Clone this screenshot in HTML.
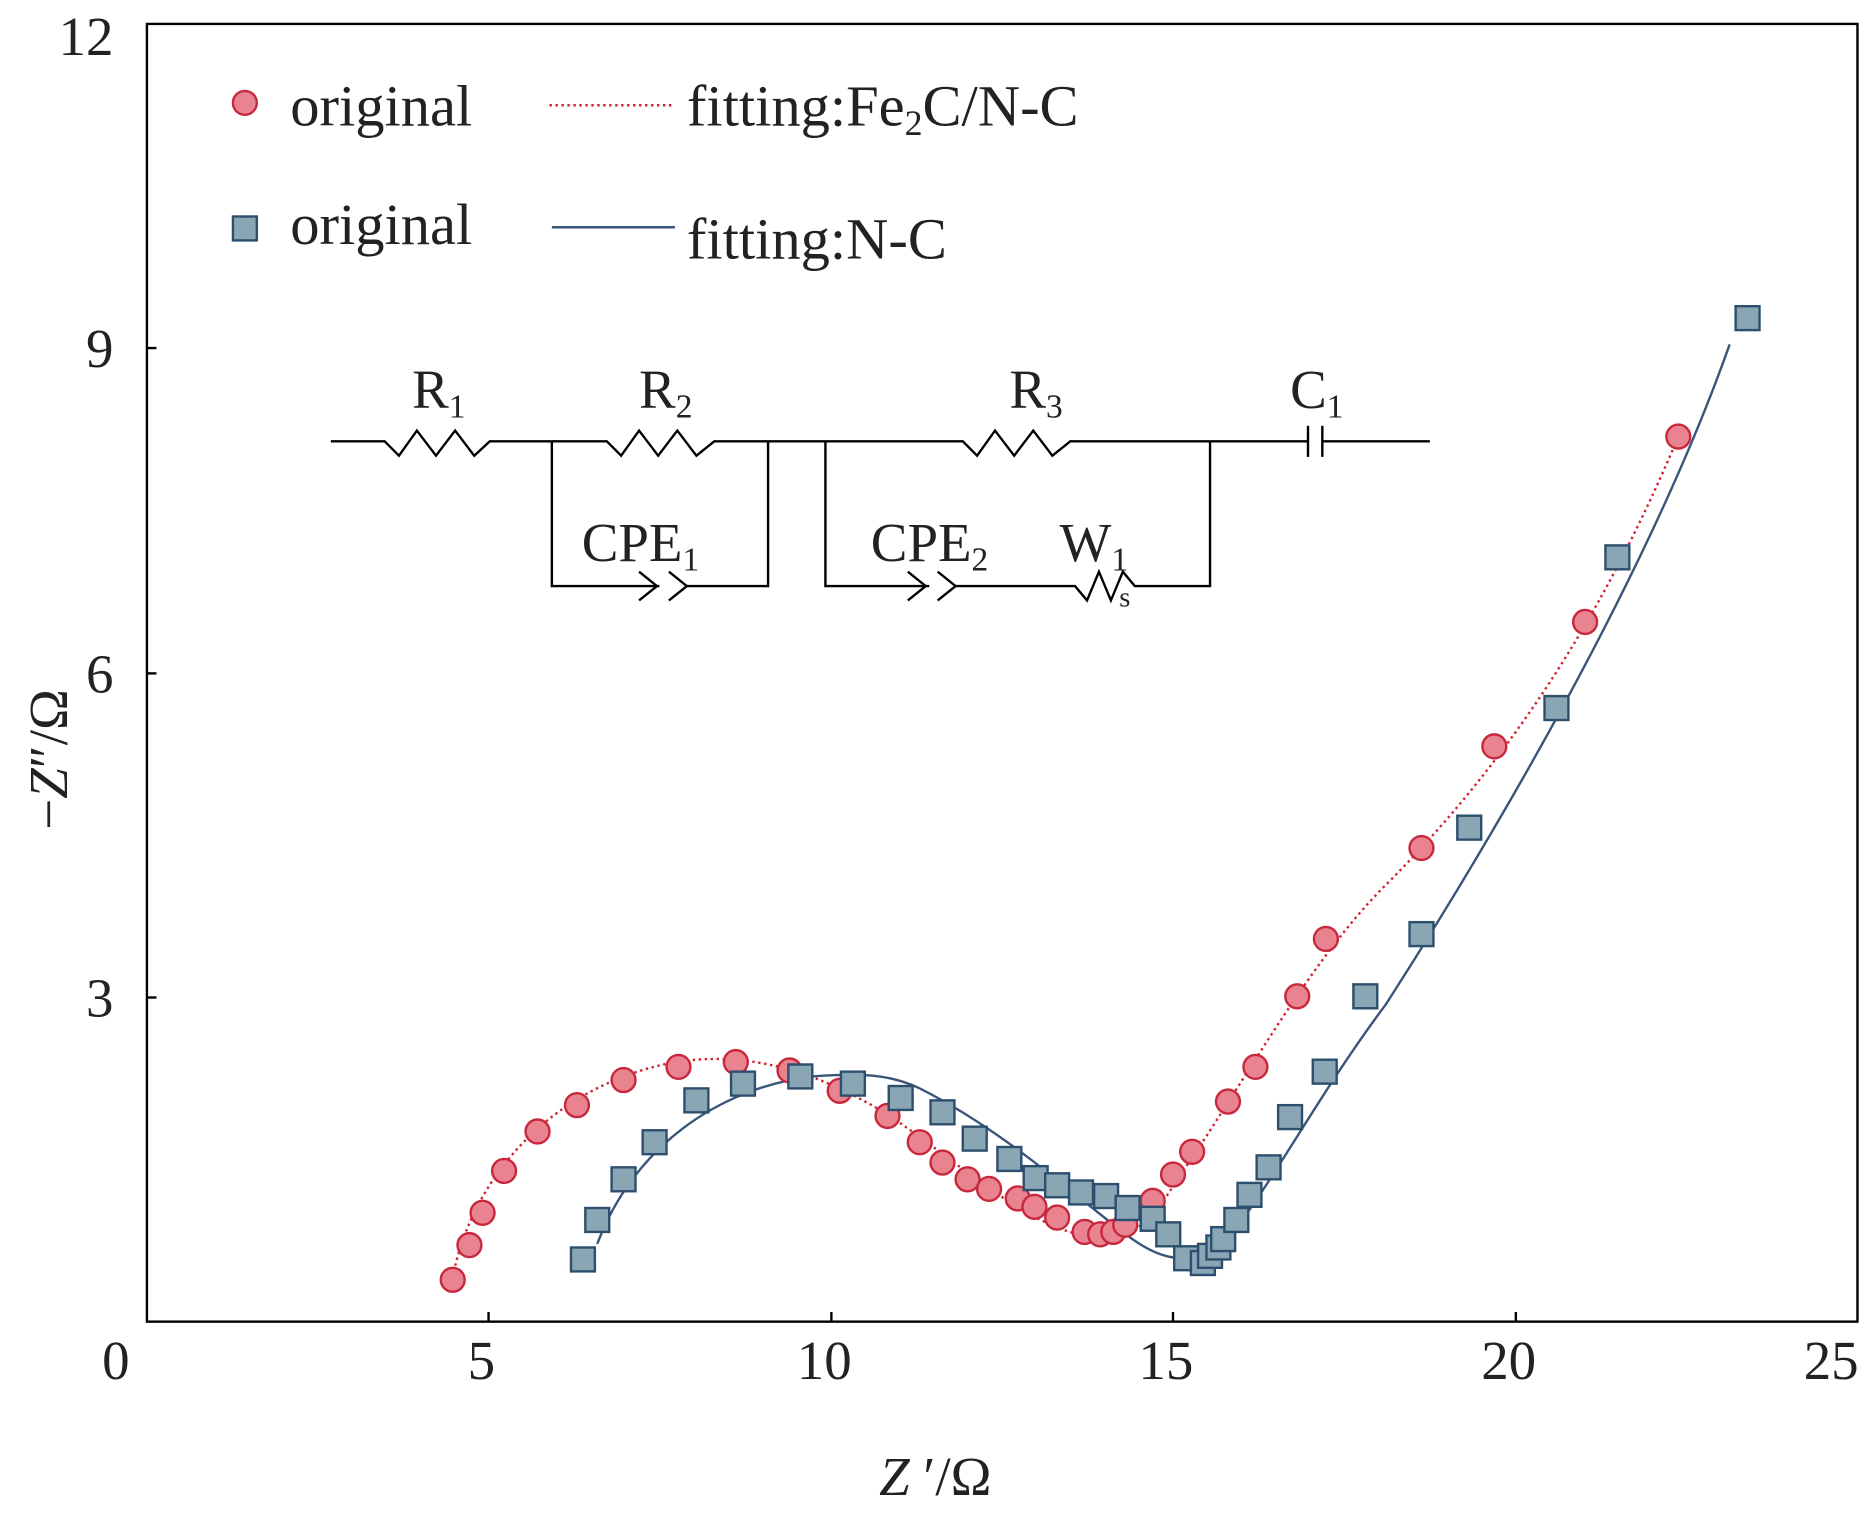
<!DOCTYPE html>
<html><head><style>html,body{margin:0;padding:0;background:#fff}svg{display:block}</style></head><body>
<svg width="1873" height="1513" viewBox="0 0 1568 1265" preserveAspectRatio="none" xmlns="http://www.w3.org/2000/svg" font-family="Liberation Serif, serif">
<rect x="123" y="20" width="1432" height="1085" fill="none" stroke="#000" stroke-width="2"/>
<g stroke="#000" stroke-width="2">
<line x1="409" y1="1105" x2="409" y2="1097"/><line x1="696" y1="1105" x2="696" y2="1097"/><line x1="982" y1="1105" x2="982" y2="1097"/><line x1="1269" y1="1105" x2="1269" y2="1097"/>
<line x1="123" y1="291" x2="131" y2="291"/><line x1="123" y1="563" x2="131" y2="563"/><line x1="123" y1="834" x2="131" y2="834"/>
</g>
<g font-size="46" fill="#222">
<text x="97" y="1153" text-anchor="middle">0</text><text x="403" y="1153" text-anchor="middle">5</text><text x="690" y="1153" text-anchor="middle">10</text><text x="976" y="1153" text-anchor="middle">15</text><text x="1263" y="1153" text-anchor="middle">20</text><text x="1533" y="1153" text-anchor="middle">25</text>
<text x="95" y="46" text-anchor="end">12</text><text x="95" y="307" text-anchor="end">9</text><text x="95" y="579" text-anchor="end">6</text><text x="95" y="850" text-anchor="end">3</text>
<text x="783" y="1250" text-anchor="middle"><tspan font-style="italic">Z</tspan> ′/Ω</text>
<text transform="translate(56,635) rotate(-90)" text-anchor="middle">−<tspan font-style="italic">Z</tspan>″/Ω</text>
</g>
<!-- legend -->
<circle cx="205" cy="86" r="10" fill="#e8838f" stroke="#c8283d" stroke-width="2"/>
<rect x="195" y="181" width="20" height="20" fill="#8aa6b4" stroke="#2c4f6e" stroke-width="2"/>
<line x1="460" y1="88" x2="565" y2="88" stroke="#d0202e" stroke-width="2" stroke-dasharray="2,3"/>
<line x1="462" y1="190" x2="565" y2="190" stroke="#3a557a" stroke-width="2"/>
<g font-size="49" fill="#222">
<text x="243" y="105">original</text><text x="243" y="204">original</text>
<text x="575" y="105">fitting:Fe<tspan font-size="30" dy="8">2</tspan><tspan dy="-8">C/N-C</tspan></text>
<text x="575" y="216">fitting:N-C</text>
</g>
<!-- circuit -->
<g fill="none" stroke="#000" stroke-width="2">
<polyline points="277,369 322,369 334,381 349,360 365,381 381,360 397,381 410,369 462,369"/>
<polyline points="462,369 508,369 520,381 535,360 551,381 567,360 583,381 598,369 691,369"/>
<polyline points="691,369 806,369 818,381 833,360 849,381 865,360 881,381 896,369 1013,369 1095,369"/>
<line x1="1095" y1="356" x2="1095" y2="382"/><line x1="1107" y1="356" x2="1107" y2="382"/><line x1="1107" y1="369" x2="1197" y2="369"/>
<polyline points="462,369 462,490 552,490"/><polyline points="535,478 550,490 535,502"/><polyline points="560,478 575,490 560,502"/><polyline points="575,490 643,490 643,369"/>
<polyline points="691,369 691,490 778,490"/><polyline points="760,478 775,490 760,502"/><polyline points="785,478 800,490 785,502"/>
<polyline points="800,490 900,490 910,502 920,478 930,502 940,478 950,490 1013,490 1013,369"/>
</g>
<g font-size="46" fill="#222">
<text x="345" y="341">R<tspan font-size="28" dy="8">1</tspan></text>
<text x="535" y="341">R<tspan font-size="28" dy="8">2</tspan></text>
<text x="845" y="341">R<tspan font-size="28" dy="8">3</tspan></text>
<text x="1080" y="341">C<tspan font-size="28" dy="8">1</tspan></text>
<text x="487" y="469">CPE<tspan font-size="28" dy="8">1</tspan></text>
<text x="729" y="469">CPE<tspan font-size="28" dy="8">2</tspan></text>
<text x="887" y="469">W<tspan font-size="28" dy="8">1</tspan></text>
<text x="937" y="507" font-size="24">s</text>
</g>
<!-- fits -->
<path d="M379,1068 C395,985 460,910 560,889 C630,876 690,900 740,930 C800,968 860,1030 920,1035 C960,1038 975,1000 1000,965 C1050,890 1100,800 1160,740 C1260,640 1340,520 1405,365" fill="none" stroke="#d0202e" stroke-width="2" stroke-dasharray="2,3"/>
<path d="M500,1040 C530,960 600,910 680,900 C720,897 745,898 770,910 C840,945 900,1000 940,1030 C965,1050 990,1060 1020,1045 C1060,1000 1100,920 1160,840 C1250,700 1380,480 1448,288" fill="none" stroke="#3a557a" stroke-width="2"/>
<g fill="#e8838f" stroke="#c8283d" stroke-width="2">
<circle cx="379" cy="1070" r="10"/><circle cx="393" cy="1041" r="10"/><circle cx="404" cy="1014" r="10"/><circle cx="422" cy="979" r="10"/><circle cx="450" cy="946" r="10"/><circle cx="483" cy="924" r="10"/><circle cx="522" cy="903" r="10"/><circle cx="568" cy="892" r="10"/><circle cx="616" cy="888" r="10"/><circle cx="661" cy="895" r="10"/><circle cx="703" cy="912" r="10"/><circle cx="743" cy="933" r="10"/><circle cx="770" cy="955" r="10"/><circle cx="789" cy="972" r="10"/><circle cx="810" cy="986" r="10"/><circle cx="828" cy="994" r="10"/><circle cx="852" cy="1002" r="10"/><circle cx="866" cy="1009" r="10"/><circle cx="885" cy="1018" r="10"/><circle cx="908" cy="1030" r="10"/><circle cx="921" cy="1032" r="10"/><circle cx="932" cy="1030" r="10"/><circle cx="942" cy="1024" r="10"/><circle cx="965" cy="1004" r="10"/><circle cx="982" cy="982" r="10"/><circle cx="998" cy="963" r="10"/><circle cx="1028" cy="921" r="10"/><circle cx="1051" cy="892" r="10"/><circle cx="1086" cy="833" r="10"/><circle cx="1110" cy="785" r="10"/><circle cx="1190" cy="709" r="10"/><circle cx="1251" cy="624" r="10"/><circle cx="1327" cy="520" r="10"/><circle cx="1405" cy="365" r="10"/>
</g>
<g fill="#8aa6b4" stroke="#2c4f6e" stroke-width="2" transform="translate(-10,-10)">
<rect x="488" y="1053" width="20" height="20"/><rect x="500" y="1020" width="20" height="20"/><rect x="522" y="986" width="20" height="20"/><rect x="548" y="955" width="20" height="20"/><rect x="583" y="920" width="20" height="20"/><rect x="622" y="906" width="20" height="20"/><rect x="670" y="900" width="20" height="20"/><rect x="714" y="906" width="20" height="20"/><rect x="754" y="918" width="20" height="20"/><rect x="789" y="930" width="20" height="20"/><rect x="816" y="952" width="20" height="20"/><rect x="845" y="969" width="20" height="20"/><rect x="867" y="985" width="20" height="20"/><rect x="885" y="991" width="20" height="20"/><rect x="905" y="997" width="20" height="20"/><rect x="926" y="1000" width="20" height="20"/><rect x="944" y="1010" width="20" height="20"/><rect x="965" y="1019" width="20" height="20"/><rect x="978" y="1032" width="20" height="20"/><rect x="993" y="1052" width="20" height="20"/><rect x="1007" y="1056" width="20" height="20"/><rect x="1013" y="1050" width="20" height="20"/><rect x="1020" y="1043" width="20" height="20"/><rect x="1024" y="1036" width="20" height="20"/><rect x="1035" y="1020" width="20" height="20"/><rect x="1046" y="999" width="20" height="20"/><rect x="1062" y="976" width="20" height="20"/><rect x="1080" y="934" width="20" height="20"/><rect x="1109" y="896" width="20" height="20"/><rect x="1143" y="833" width="20" height="20"/><rect x="1190" y="781" width="20" height="20"/><rect x="1230" y="692" width="20" height="20"/><rect x="1303" y="592" width="20" height="20"/><rect x="1354" y="466" width="20" height="20"/><rect x="1463" y="266" width="20" height="20"/>
</g>
</svg>
</body></html>
